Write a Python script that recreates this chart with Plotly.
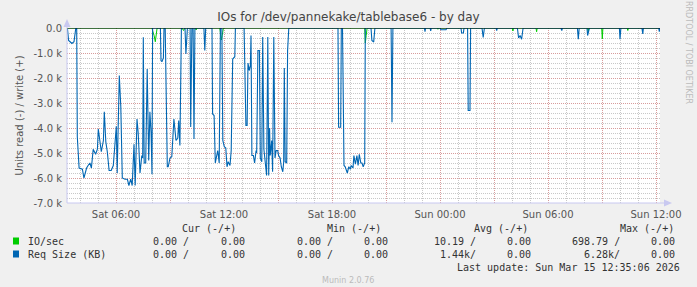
import plotly.graph_objects as go

# ---------------- data (values in thousands) ----------------
SAT = "2026-03-14 "
SUN = "2026-03-15 "

req_times_sat = ["03:18","03:22","03:27","03:33","03:40","03:46","03:49","03:51","03:57","04:08",
    "04:13","04:22","04:27","04:33","04:38","04:44","04:52","04:58","05:01","05:06",
    "05:11","05:18","05:21","05:26","05:31","05:37","05:44","05:51","05:56","06:01",
    "06:04","06:11","06:16","06:21","06:30","06:38","06:43","06:49","06:54","07:00",
    "07:04","07:10","07:14","07:20","07:26","07:29","07:31","07:34","07:39","07:44",
    "07:49","07:53","07:57","08:00","08:02","08:28","08:30","08:33","08:38","08:40",
    "08:44","08:51","08:54","09:00","09:06","09:13","09:20","09:26","09:29","09:33",
    "09:38","09:50","09:53","09:58","10:07","10:09","10:13","10:17","10:20","10:23",
    "10:53","10:56","10:59","11:20","11:22","11:27","11:31","11:36","11:39","11:44",
    "11:48","11:53","11:56","12:01","12:06","12:10","12:14","12:20","12:24","12:29",
    "12:36","12:38","13:07","13:13","13:17","13:20","13:24","13:28","13:30","13:33",
    "13:38","13:42","13:47","13:49","13:53","13:58","14:01","14:06","14:09","14:13",
    "14:18","14:22","14:26","14:29","14:32","14:34","14:39","14:42","14:46","14:50",
    "14:54","14:59","15:02","15:07","15:11","15:16","15:19","15:21","15:24","15:29",
    "15:32","15:36","18:20","18:22","18:29","18:31","18:35","18:40","18:44","18:47",
    "18:51","18:56","19:01","19:04","19:10","19:13","19:18","19:23","19:27","19:31",
    "19:36","19:40","19:44","19:49","19:51","20:10","20:13","20:19","20:23","21:17",
    "21:20","21:23","23:08","23:10","23:12","23:27","23:29","23:31"]
req_vals_sat = [0,-0.5,-0.55,-0.62,-0.55,0,0,-4.35,-5.6,-5.65,
    -6.0,-5.6,-5.5,-5.4,-5.6,-4.85,-5.05,-4.85,-4.04,-4.55,
    -4.95,-4.5,-3.35,-4.55,-4.95,-5.7,-5.7,-5.5,-4.64,-3.93,
    -5.8,-1.9,-3.15,-6.0,-6.05,-6.05,-6.3,-6.05,-6.3,-4.65,
    -6.3,-3.64,-4.2,-5.8,-5.1,-5.2,-0.37,-5.4,-5.4,-1.64,
    -5.3,-3.35,-4.2,-5.85,0,0,-1.3,-1.35,-1.2,0,
    0,-5.55,-5.55,-5.2,-5.15,-3.64,-4.5,-4.4,-3.7,-4.7,
    0,0,-1.04,0,0,-3.96,0,0,-4.44,0,
    0,-0.9,0,0,-3.44,-3.5,-5.4,-5.15,-4.9,-5.4,
    0,0,-4.5,-4.75,-4.8,-5.55,-5.35,-5.5,-4.9,-1.24,
    -1.15,0,0,-3.9,-3.9,-1.4,-1.7,-1.5,-0.3,-5.1,
    -5.1,-5.4,-4.9,-5.0,-0.9,-0.9,-5.2,-5.35,-0.36,-4.85,
    -5.35,-5.9,-0.36,-5.9,-4.0,-5.1,-4.5,-5.75,-0.36,-5.2,
    -4.9,-4.9,-5.1,-5.2,-5.55,-5.75,-5.35,-1.6,-5.35,-5.4,
    -0.9,0,0,-3.97,-3.97,0,0,-5.5,-5.55,-5.7,
    -5.8,-5.55,-5.65,-5.5,-5.6,-5.1,-5.45,-5.1,-5.5,-5.05,
    -5.4,-5.4,-5.55,-5.4,0,0,-0.5,-0.56,0,0,
    -3.77,0,0,-0.15,0,0,-0.12,0]
req_times_sun = ["00:00","00:03","00:20","00:23","01:10","01:12","01:18","01:20","01:32","01:34",
    "01:40","01:42","02:20","02:24","02:28","03:07","03:09","03:11","04:18","04:22",
    "04:27","04:32","04:37","06:43","06:46","06:48","07:38","07:41","07:44","08:10",
    "08:12","08:16","08:18","09:58","10:00","10:03","11:13","11:16","11:18","12:09",
    "12:11","12:13"]
req_vals_sun = [0,-0.07,-0.07,0,0,-0.2,-0.2,0,0,-3.3,
    -3.3,0,0,-0.38,0,0,-0.1,0,0,-0.4,
    -0.3,-0.45,0,0,-0.1,0,0,-0.45,0,0,
    -0.3,-0.1,0,0,-0.45,0,0,-0.24,0,0,
    -0.15,0]

io_times_sat = ["03:18","08:00","08:03","08:07","08:11","08:14","08:17","09:40","09:45","09:50",
    "10:25","10:27","10:29","11:46","11:48","11:51","11:54","11:58","19:49","19:51",
    "19:54","19:57","23:51","23:53","23:55"]
io_vals_sat = [0,0,-0.15,-0.3,-0.55,-0.2,0,0,-0.1,0,
    0,-0.08,0,0,-0.15,-0.48,-0.3,0,0,-0.6,
    -0.3,0,0,-0.05,0]
io_times_sun = ["04:01","04:03","04:05","05:20","05:22","05:24","08:12","08:14","08:16","08:59",
    "09:01","09:03","10:24","10:26","10:28","12:13"]
io_vals_sun = [0,-0.12,0,0,-0.15,0,0,-0.15,0,0,
    -0.43,0,0,-0.1,0,0]

y_tick_vals = [0, -1, -2, -3, -4, -5, -6, -7]
y_tick_text = ["0.0", "-1.0 k", "-2.0 k", "-3.0 k", "-4.0 k", "-5.0 k", "-6.0 k", "-7.0 k"]
x_tick_vals = [SAT + "06:00", SAT + "09:00", SAT + "12:00", SAT + "15:00", SAT + "18:00",
               SAT + "21:00", SUN + "00:00", SUN + "03:00", SUN + "06:00", SUN + "09:00",
               SUN + "12:00"]
x_tick_text = ["Sat 06:00", "", "Sat 12:00", "", "Sat 18:00", "", "Sun 00:00", "",
               "Sun 06:00", "", "Sun 12:00"]

legend_names = ["IO/sec", "Req Size (KB)"]
legend_colors = ["#00CC00", "#0066B3"]
stat_headers = ["Cur (-/+)", "Min (-/+)", "Avg (-/+)", "Max (-/+)"]
stats = [
    ["0.00 /", "0.00", "0.00 /", "0.00", "10.19 /", "0.00", "698.79 /", "0.00"],
    ["0.00 /", "0.00", "0.00 /", "0.00", "1.44k/", "0.00", "6.28k/", "0.00"],
]
last_update = "Last update: Sun Mar 15 12:35:06 2026"

# ---------------- figure ----------------
W, H = 697, 287
L, R, T, B = 67, 660, 28, 203


def px(x):
    return (x - L) / (R - L)


def py(y):
    return (B - y) / (B - T)


req_x = [SAT + t for t in req_times_sat] + [SUN + t for t in req_times_sun]
req_y = req_vals_sat + req_vals_sun
io_x = [SAT + t for t in io_times_sat] + [SUN + t for t in io_times_sun]
io_y = io_vals_sat + io_vals_sun

fig = go.Figure()
fig.add_trace(go.Scatter(x=io_x, y=io_y, mode="lines",
                         line=dict(color=legend_colors[0], width=1), cliponaxis=True))
fig.add_trace(go.Scatter(x=req_x, y=req_y, mode="lines",
                         line=dict(color=legend_colors[1], width=1.1), cliponaxis=True))

grid_major = "rgba(230,120,120,0.55)"
grid_minor = "rgb(200,200,200)"
gdash = "1px,1px"
axis_col = "#C8C8F0"
txt = "#555555"

fig.update_layout(
    width=W, height=H,
    margin=dict(l=L, r=W - R, t=T, b=H - B, pad=0),
    paper_bgcolor="#F0F0F0", plot_bgcolor="#FFFFFF",
    showlegend=False,
    font=dict(family="DejaVu Sans", size=10, color=txt),
    title=dict(text="IOs for /dev/pannekake/tablebase6 - by day",
               x=0.5, xanchor="center", y=1 - 17 / H, yanchor="middle",
               font=dict(family="DejaVu Sans", size=12, color="#444444")),
    xaxis=dict(type="date", range=[SAT + "03:16:40", SUN + "12:13:20"],
               tickmode="array", tickvals=x_tick_vals, ticktext=x_tick_text,
               showgrid=True, gridcolor=grid_major, griddash=gdash, gridwidth=1,
               minor=dict(dtick=3600000, showgrid=True, gridcolor=grid_minor,
                          griddash=gdash, gridwidth=1),
               showline=False, zeroline=False, ticks="", ticklabelstandoff=4,
               tickfont=dict(size=10, color=txt)),
    yaxis=dict(range=[-7, 0], tickmode="array", tickvals=y_tick_vals, ticktext=y_tick_text,
               showgrid=True, gridcolor=grid_major, griddash=gdash, gridwidth=1,
               minor=dict(dtick=0.2, showgrid=True, gridcolor=grid_minor,
                          griddash=gdash, gridwidth=1),
               showline=False, zeroline=False, ticks="", ticklabelstandoff=4,
               tickfont=dict(size=10, color=txt),
               title=dict(text="Units read (-) / write (+)", standoff=8,
                          font=dict(size=10, color=txt))),
)

shapes = [
    # zero line
    dict(type="line", xref="paper", yref="y", x0=0, x1=1, y0=0, y1=0,
         line=dict(color="#000000", width=1), layer="above"),
    # axes
    dict(type="line", xref="paper", yref="paper", x0=0, x1=px(666), y0=0, y1=0,
         line=dict(color=axis_col, width=1), layer="above"),
    dict(type="line", xref="paper", yref="paper", x0=0, x1=0, y0=0, y1=py(24),
         line=dict(color=axis_col, width=1), layer="above"),
    # arrows
    dict(type="path", xref="paper", yref="paper",
         path=f"M {px(63.5)} {py(27)} L {px(67)} {py(19)} L {px(70.5)} {py(27)} Z",
         fillcolor=axis_col, line=dict(width=0), layer="above"),
    dict(type="path", xref="paper", yref="paper",
         path=f"M {px(664)} {py(199.5)} L {px(672)} {py(203)} L {px(664)} {py(206.5)} Z",
         fillcolor=axis_col, line=dict(width=0), layer="above"),
]

# legend squares
for i, c in enumerate(legend_colors):
    yc = 241 + 13 * i
    shapes.append(dict(type="rect", xref="paper", yref="paper",
                       x0=px(13), x1=px(19), y0=py(yc - 3.5), y1=py(yc + 3.5),
                       fillcolor=c, line=dict(color="#333333", width=0)))
fig.update_layout(shapes=shapes)

mono = dict(family="DejaVu Sans Mono", size=10, color="#333333")
ann = []


def add_text(x, y, text, anchor="right", font=mono, **kw):
    ann.append(dict(x=px(x), y=py(y), xref="paper", yref="paper", text=text,
                    showarrow=False, xanchor=anchor, yanchor="middle", font=font, **kw))


header_right = [238, 383, 530, 676]
for hdr, xr in zip(stat_headers, header_right):
    add_text(xr, 228, hdr)
col_right = [191, 247, 335, 390, 478, 533, 622, 677]
for i, name in enumerate(legend_names):
    yc = 241 + 13 * i
    add_text(26, yc, name, anchor="left")
    for val, xr in zip(stats[i], col_right):
        add_text(xr, yc, val)
add_text(682, 267, last_update)
add_text(348, 280, "Munin 2.0.76", anchor="center",
         font=dict(family="DejaVu Sans", size=8, color="#BBBBBB"))
add_text(689, 52, "RRDTOOL / TOBI OETIKER", anchor="center",
         font=dict(family="DejaVu Sans", size=8, color="#BBBBBB"), textangle=90)
fig.update_layout(annotations=ann)

fig.write_html("out.html")
